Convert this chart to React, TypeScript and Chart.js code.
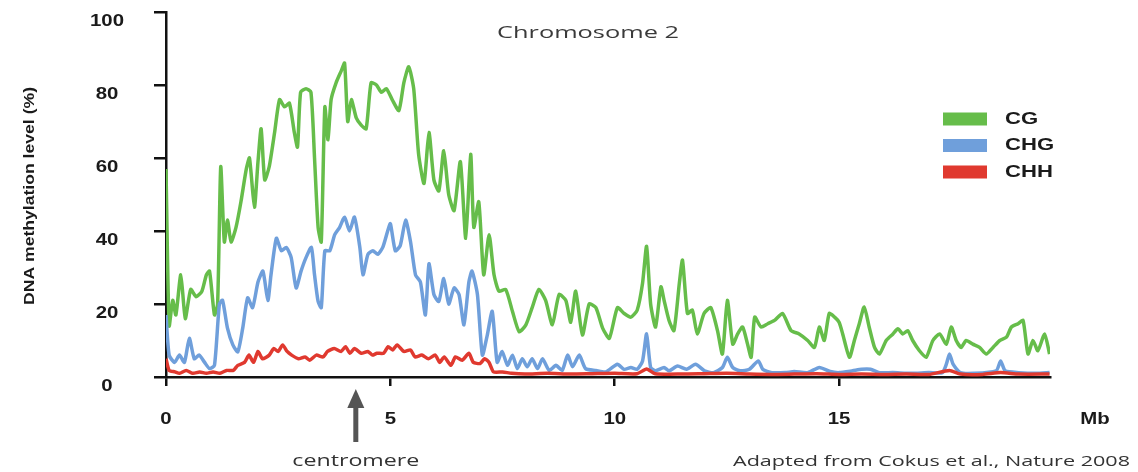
import React, { useEffect, useRef } from 'react';
import { Chart, registerables } from 'chart.js';

Chart.register(...registerables);

// ---------- data ----------
const cgMb = [0, 0.07, 0.15, 0.22, 0.33, 0.43, 0.55, 0.67, 0.8, 0.9, 0.97, 1.08, 1.15, 1.22, 1.3, 1.37, 1.45, 1.56, 1.67, 1.79, 1.86, 1.97, 2.05, 2.12, 2.2, 2.3, 2.42, 2.53, 2.64, 2.75, 2.86, 2.93, 3.0, 3.12, 3.23, 3.31, 3.39, 3.46, 3.54, 3.61, 3.68, 3.79, 3.91, 3.98, 4.05, 4.13, 4.24, 4.35, 4.46, 4.57, 4.69, 4.8, 4.91, 5.04, 5.19, 5.3, 5.41, 5.52, 5.63, 5.75, 5.86, 5.97, 6.08, 6.19, 6.3, 6.42, 6.56, 6.68, 6.79, 6.86, 6.97, 7.08, 7.2, 7.31, 7.42, 7.57, 7.72, 7.87, 8.02, 8.16, 8.31, 8.46, 8.61, 8.76, 8.91, 9.02, 9.13, 9.28, 9.43, 9.58, 9.73, 9.88, 10.06, 10.21, 10.36, 10.5, 10.62, 10.71, 10.8, 10.91, 11.03, 11.1, 11.21, 11.32, 11.44, 11.51, 11.62, 11.73, 11.84, 11.99, 12.14, 12.29, 12.4, 12.51, 12.63, 12.74, 12.85, 12.96, 13.04, 13.12, 13.26, 13.41, 13.56, 13.74, 13.93, 14.11, 14.3, 14.45, 14.56, 14.67, 14.78, 14.9, 15.0, 15.08, 15.23, 15.34, 15.45, 15.56, 15.67, 15.79, 15.9, 16.05, 16.2, 16.31, 16.42, 16.53, 16.64, 16.79, 16.94, 17.09, 17.24, 17.39, 17.5, 17.61, 17.72, 17.83, 17.98, 18.13, 18.28, 18.43, 18.58, 18.73, 18.84, 18.99, 19.1, 19.21, 19.32, 19.43, 19.58, 19.69];
const cgPct = [57, 14, 21, 17, 28, 16, 24, 22, 23.5, 28, 29, 17, 20, 57.6, 37, 43, 37, 41, 48, 57, 60, 46.5, 59, 68, 54, 57.6, 67, 76, 74, 75, 67, 63, 78, 79, 78, 60, 41, 37, 74, 65, 76, 80.6, 84, 86, 70, 76, 71, 69, 68, 80.6, 80, 78, 79, 76, 73, 80.6, 85, 79, 61, 53, 67, 54, 51, 62, 50, 45.6, 59, 38, 61, 41, 48, 28, 39, 28, 23.5, 24, 18, 12.4, 14.3, 19, 24, 21, 14.3, 22.6, 21, 15, 23.5, 11.5, 20, 19, 13.4, 10.6, 19, 17.4, 16.4, 18.3, 25.7, 35.8, 20, 13.7, 24.7, 21, 15.5, 12.7, 25.7, 32, 17.4, 18.3, 11.8, 17.4, 19, 12.7, 6.3, 21, 9, 11.8, 13.7, 9, 5.4, 16.4, 13.7, 14.6, 15.5, 17.4, 12.7, 11.8, 10, 8.1, 13.7, 10, 17.4, 16.4, 15, 11.8, 5.4, 10, 14.6, 19.2, 13.7, 8.1, 6.3, 10, 11.8, 13.2, 11.8, 12.7, 10, 7.2, 5.4, 10, 11.8, 9, 13.7, 10, 8.1, 10, 9, 8.1, 6.3, 8.1, 10, 10.9, 13.7, 14.6, 15.5, 6.3, 10, 7.2, 11.8, 6.3];

const chgMb = [0, 0.07, 0.19, 0.3, 0.41, 0.52, 0.63, 0.74, 0.86, 0.97, 1.08, 1.19, 1.26, 1.37, 1.49, 1.6, 1.71, 1.82, 1.93, 2.05, 2.16, 2.27, 2.34, 2.46, 2.57, 2.68, 2.79, 2.9, 3.01, 3.12, 3.24, 3.31, 3.39, 3.46, 3.54, 3.65, 3.76, 3.87, 3.98, 4.09, 4.2, 4.32, 4.39, 4.5, 4.61, 4.72, 4.83, 4.94, 5.0, 5.11, 5.22, 5.34, 5.45, 5.56, 5.67, 5.78, 5.86, 5.97, 6.08, 6.19, 6.3, 6.42, 6.53, 6.64, 6.75, 6.82, 6.94, 7.05, 7.16, 7.27, 7.38, 7.49, 7.61, 7.72, 7.83, 7.94, 8.05, 8.16, 8.28, 8.39, 8.54, 8.69, 8.83, 8.95, 9.06, 9.21, 9.35, 9.58, 9.8, 10.06, 10.21, 10.36, 10.5, 10.62, 10.71, 10.8, 10.91, 11.1, 11.21, 11.4, 11.6, 11.8, 12.0, 12.2, 12.4, 12.51, 12.63, 12.8, 13.0, 13.2, 13.3, 13.5, 13.8, 14.0, 14.3, 14.56, 14.8, 15.0, 15.3, 15.5, 15.7, 15.9, 16.2, 16.6, 17.0, 17.3, 17.39, 17.46, 17.54, 17.7, 18.0, 18.5, 18.6, 18.7, 19.0, 19.4, 19.69];
const chgPct = [17, 6, 4, 6, 4, 10.6, 5, 6, 4, 2.3, 3.2, 20, 21, 13.4, 8.8, 6.9, 13.4, 21.7, 19, 26, 29, 21, 28, 38, 34.6, 35.5, 32.7, 24.4, 29, 32.7, 35.5, 28, 20.7, 19, 34.6, 34.6, 39, 41, 43.8, 40, 43.8, 35.5, 28, 33.6, 34.6, 33.6, 35.5, 40, 42, 34.6, 36, 43, 37, 28, 26, 17, 31, 22.6, 20.7, 27, 20, 24.4, 22.6, 14.3, 26, 29, 22.6, 6, 11.5, 18, 4, 7, 3.2, 6, 2.3, 5, 2.8, 5, 2.3, 5, 1.8, 3.2, 1.8, 6, 2.8, 6, 2.3, 1.8, 1.4, 3.5, 2.1, 2.6, 2.1, 4.4, 11.8, 2.6, 1.7, 2.6, 1.7, 3, 2.1, 3.5, 1.7, 1.2, 2.6, 5.4, 2.6, 1.7, 2.1, 4.4, 2.1, 1.2, 1.2, 1.5, 1.2, 2.6, 1.5, 1.2, 1.7, 2.1, 2.1, 1.2, 1.2, 1.0, 1.2, 1.2, 3.5, 6.3, 3.5, 1.2, 1.0, 1.7, 4.4, 1.7, 1.2, 1.0, 1.2];

const chhMb = [0, 0.07, 0.2, 0.3, 0.45, 0.6, 0.75, 0.9, 1.05, 1.2, 1.35, 1.5, 1.6, 1.75, 1.85, 1.95, 2.05, 2.15, 2.3, 2.4, 2.5, 2.6, 2.7, 2.8, 2.95, 3.1, 3.2, 3.35, 3.5, 3.6, 3.75, 3.9, 4.0, 4.1, 4.2, 4.35, 4.5, 4.6, 4.7, 4.85, 4.95, 5.05, 5.15, 5.3, 5.45, 5.55, 5.7, 5.85, 6.0, 6.1, 6.2, 6.35, 6.45, 6.6, 6.75, 6.85, 7.0, 7.1, 7.2, 7.3, 7.5, 7.7, 8.0, 8.5, 9.0, 9.5, 10.0, 10.5, 10.71, 10.9, 11.5, 12.0, 12.5, 13.0, 13.5, 14.0, 14.5, 15.0, 15.5, 16.0, 16.5, 17.0, 17.46, 17.7, 18.2, 18.6, 19.0, 19.69];
const chhPct = [5, 1.8, 1.4, 1, 1.8, 1, 1.4, 1, 1.4, 1, 1.8, 1.8, 3.2, 4, 6, 4, 7, 5, 6, 7.8, 7, 8.8, 7, 6, 5, 5.5, 4.6, 6, 5.5, 7, 7.8, 7, 8.3, 6.5, 7.8, 6.5, 7, 6, 6.5, 6.5, 8.3, 7.4, 8.8, 7, 7.4, 5.5, 6, 5, 6, 4, 5.5, 3.2, 5.5, 4.6, 6.5, 4, 3.7, 5, 4, 1.4, 1.4, 1, 0.8, 1, 0.8, 0.9, 1, 0.9, 2.2, 0.9, 0.8, 0.9, 1, 0.8, 0.7, 0.8, 0.9, 0.7, 0.8, 0.7, 0.8, 0.7, 1.8, 0.8, 0.7, 1.2, 0.8, 0.8];

const seriesNames = ['CG', 'CHG', 'CHH'];
const seriesColors = ['#66bd4a', '#6f9fdb', '#e0392f'];
const yTicks = [0, 20, 40, 60, 80, 100];
const xTicks = [0, 5, 10, 15];
const xMax = 19.7;
const titleText = 'Chromosome 2';
const yTitleText = 'DNA methylation level (%)';
const xUnitText = 'Mb';
const centromereMb = 4.23;
const centromereText = 'centromere';
const creditText = 'Adapted from Cokus et al., Nature 2008';

function toPoints(xs: number[], ys: number[]) {
  return xs.map((x, i) => ({ x, y: ys[i] }));
}

function drawText(
  ctx: CanvasRenderingContext2D,
  text: string,
  x: number,
  y: number,
  font: string,
  color: string,
  align: CanvasTextAlign,
  opts: { width?: number; sx?: number; rotate?: number } = {}
) {
  ctx.save();
  ctx.font = font;
  ctx.fillStyle = color;
  ctx.textBaseline = 'middle';
  ctx.textAlign = align;
  const w = ctx.measureText(text).width;
  let s = opts.sx ?? 1;
  if (opts.width) s = opts.width / w;
  ctx.translate(x, y);
  if (opts.rotate) ctx.rotate(opts.rotate);
  ctx.scale(s, 1);
  ctx.fillText(text, 0, 0);
  ctx.restore();
}

const decorPlugin = {
  id: 'decor',
  afterDraw(chart: any) {
    const ctx: CanvasRenderingContext2D = chart.ctx;
    const xs = chart.scales.x;
    const ys = chart.scales.y;
    const tickFont = 'bold 17px "Liberation Sans", Arial, sans-serif';
    // y tick labels
    yTicks.forEach((v) => {
      drawText(ctx, String(v), 107, ys.getPixelForValue(v) + 9.5, tickFont, '#1a1a1a', 'center', { sx: 1.2 });
    });
    // x tick labels
    xTicks.forEach((v) => {
      drawText(ctx, String(v), xs.getPixelForValue(v), 419, tickFont, '#1a1a1a', 'center', { sx: 1.2 });
    });
    drawText(ctx, xUnitText, 1095, 419, tickFont, '#1a1a1a', 'center', { sx: 1.2 });
    // y title
    drawText(ctx, yTitleText, 30, 196, 'bold 15px "Liberation Sans", Arial, sans-serif', '#1a1a1a', 'center', {
      width: 218,
      rotate: -Math.PI / 2,
    });
    // title
    drawText(ctx, titleText, 497, 33, '17px "Open Sans", sans-serif', '#3a3a3a', 'left', { width: 182 });
    // legend
    seriesNames.forEach((name, i) => {
      const cy = 119 + i * 26.5;
      ctx.fillStyle = seriesColors[i];
      ctx.fillRect(943, cy - 6.5, 44, 13);
      drawText(ctx, name, 1005, cy, 'bold 17px "Liberation Sans", Arial, sans-serif', '#1a1a1a', 'left', { sx: 1.3 });
    });
    // centromere arrow
    const ax = xs.getPixelForValue(centromereMb);
    ctx.save();
    ctx.fillStyle = '#555555';
    ctx.fillRect(ax - 2.5, 404, 5, 38);
    ctx.beginPath();
    ctx.moveTo(ax, 389);
    ctx.lineTo(ax - 8.5, 408);
    ctx.lineTo(ax + 8.5, 408);
    ctx.closePath();
    ctx.fill();
    ctx.restore();
    drawText(ctx, centromereText, ax, 461, '16px "Open Sans", sans-serif', '#333333', 'center', { width: 127 });
    drawText(ctx, creditText, 733, 462, '15px "Open Sans", sans-serif', '#333333', 'left', { width: 397 });
  },
};

export default function App() {
  const ref = useRef<HTMLCanvasElement | null>(null);
  useEffect(() => {
    if (!ref.current) return;
    const lineCommon = {
      borderWidth: 3.5,
      pointRadius: 0,
      tension: 0.2,
      fill: false,
    };
    const chart = new Chart(ref.current, {
      type: 'line',
      data: {
        datasets: [
          { ...lineCommon, label: seriesNames[0], data: toPoints(cgMb, cgPct), borderColor: seriesColors[0], order: 3 },
          { ...lineCommon, label: seriesNames[1], data: toPoints(chgMb, chgPct), borderColor: seriesColors[1], order: 2 },
          { ...lineCommon, label: seriesNames[2], data: toPoints(chhMb, chhPct), borderColor: seriesColors[2], order: 1 },
        ],
      },
      options: {
        responsive: false,
        animation: false,
        devicePixelRatio: 1,
        events: [],
        layout: { padding: { top: 12, right: 88, left: 0, bottom: 0 } },
        plugins: {
          legend: { display: false },
          tooltip: { enabled: false },
          title: { display: false },
        },
        scales: {
          x: {
            type: 'linear',
            min: 0,
            max: xMax,
            afterBuildTicks: (s: any) => {
              s.ticks = xTicks.map((v) => ({ value: v }));
            },
            afterFit: (s: any) => {
              s.height = 95;
            },
            ticks: { display: false },
            grid: { drawOnChartArea: false, drawTicks: true, tickLength: 9, color: '#111', lineWidth: 2.5 },
            border: { color: '#111', width: 2.5 },
          },
          y: {
            type: 'linear',
            min: 0,
            max: 100,
            afterBuildTicks: (s: any) => {
              s.ticks = yTicks.map((v) => ({ value: v }));
            },
            afterFit: (s: any) => {
              s.width = 166;
            },
            ticks: { display: false },
            grid: { drawOnChartArea: false, drawTicks: true, tickLength: 12, color: '#111', lineWidth: 2.5 },
            border: { color: '#111', width: 2.5 },
          },
        },
      },
      plugins: [decorPlugin],
    } as any);
    return () => chart.destroy();
  }, []);
  return (
    <div style={{ position: 'fixed', left: 0, top: 0, width: 1138, height: 472, background: '#fff' }}>
      <canvas ref={ref} width={1138} height={472} style={{ display: 'block' }} />
    </div>
  );
}
